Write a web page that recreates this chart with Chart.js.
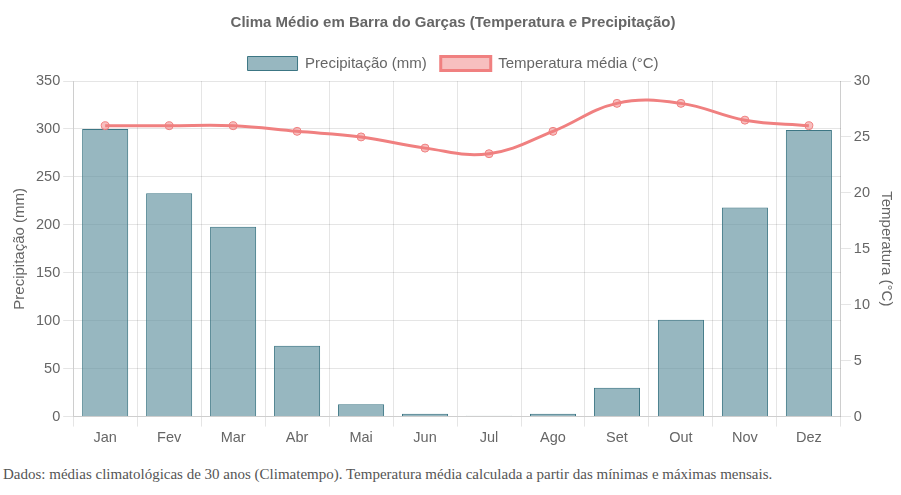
<!DOCTYPE html>
<html lang="pt-BR">
<head>
<meta charset="utf-8">
<title>Clima Médio em Barra do Garças</title>
<script src="https://cdn.jsdelivr.net/npm/chart.js@4"></script>
<style>
    body { margin: 0; background: #fff; }
    #wrap { width: 901px; height: 450px; position: relative; }
    #nota {
        margin: 16px 0 0 3px;
        font-family: 'Liberation Serif', 'Times New Roman', serif;
        font-size: 15px;
        color: #555;
    }
</style>
</head>
<body>
<div id="wrap"><canvas id="grafico"></canvas></div>
<p id="nota">Dados: médias climatológicas de 30 anos (Climatempo). Temperatura média calculada a partir das mínimas e máximas mensais.</p>
<script>
const meses = ['Jan', 'Fev', 'Mar', 'Abr', 'Mai', 'Jun', 'Jul', 'Ago', 'Set', 'Out', 'Nov', 'Dez'];
const precipitacao = [300, 233, 198, 74, 13, 3, 1, 3, 30, 101, 218, 299];
const temperatura = [26, 26, 26, 25.5, 25, 24, 23.5, 25.5, 28, 28, 26.5, 26];

Chart.defaults.font.family = "'Liberation Sans', Arial, sans-serif";
Chart.defaults.font.size = 14.5;
Chart.defaults.color = '#666';

const ctx = document.getElementById('grafico').getContext('2d');
new Chart(ctx, {
    data: {
        labels: meses,
        datasets: [
            {
                type: 'line',
                label: 'Temperatura média (°C)',
                data: temperatura,
                yAxisID: 'yTemp',
                borderColor: 'rgb(240, 128, 128)',
                backgroundColor: 'rgba(240, 128, 128, 0.5)',
                borderWidth: 3,
                pointRadius: 4,
                pointBorderWidth: 1,
                tension: 0.4,
                order: 0,
            },
            {
                type: 'bar',
                label: 'Precipitação (mm)',
                data: precipitacao,
                yAxisID: 'yPrec',
                backgroundColor: 'rgba(95, 145, 158, 0.65)',
                borderColor: 'rgb(60, 118, 132)',
                borderWidth: 1,
                categoryPercentage: 0.8,
                barPercentage: 0.9,
                order: 1,
            },
        ],
    },
    options: {
        responsive: true,
        maintainAspectRatio: false,
        animation: false,
        layout: { padding: { left: 7, right: 2 } },
        plugins: {
            title: {
                display: true,
                text: 'Clima Médio em Barra do Garças (Temperatura e Precipitação)',
                font: { size: 15, weight: 'bold' },
                padding: { top: 14, bottom: 10 },
            },
            legend: {
                reverse: true,
                labels: { boxWidth: 50, boxHeight: 14, font: { size: 15 }, padding: 14 },
            },
        },
        scales: {
            x: {
                grid: { color: 'rgba(0,0,0,0.1)', tickLength: 10 },
            },
            yPrec: {
                type: 'linear',
                position: 'left',
                min: 0,
                max: 350,
                ticks: { stepSize: 50 },
                grid: { tickLength: 10 },
                title: { display: true, text: 'Precipitação (mm)', font: { size: 15 } },
            },
            yTemp: {
                type: 'linear',
                position: 'right',
                min: 0,
                max: 30,
                ticks: { stepSize: 5 },
                grid: { drawOnChartArea: false, tickLength: 10 },
                title: { display: true, text: 'Temperatura (°C)', font: { size: 15 } },
            },
        },
    },
});
</script>
</body>
</html>
